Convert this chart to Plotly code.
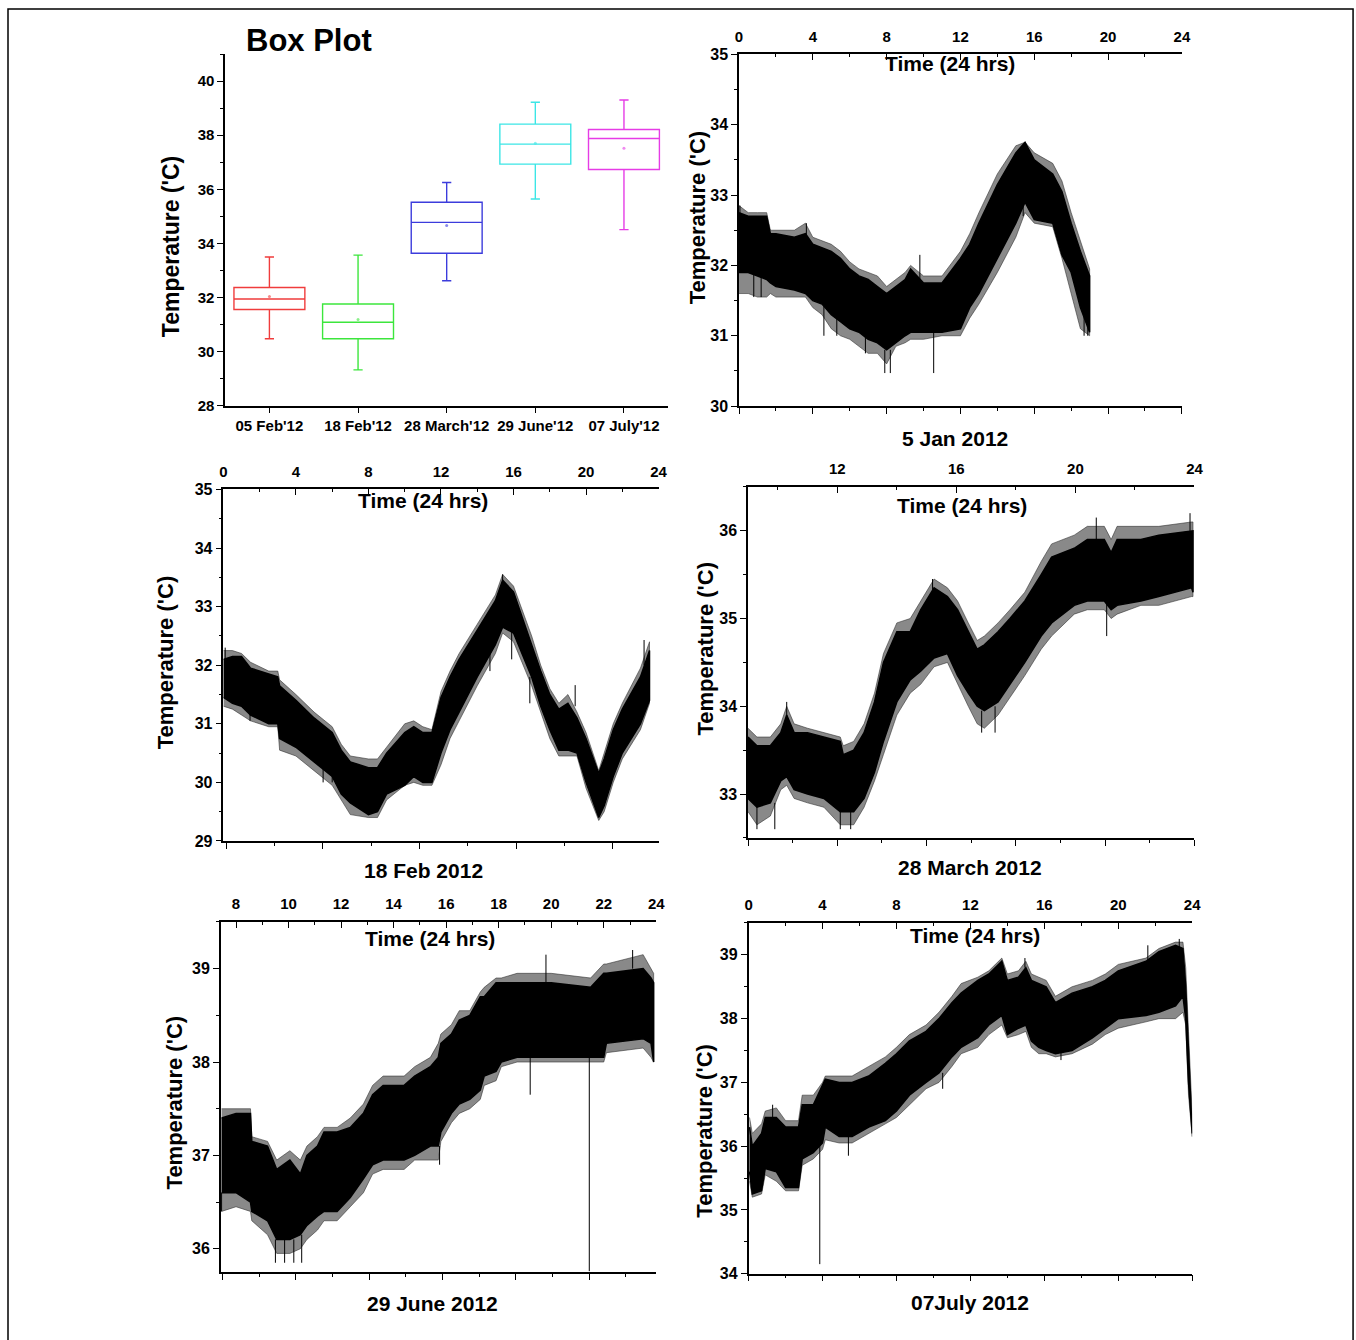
import plotly.graph_objects as go

W, H = 1356, 1340
FONT = "Liberation Sans, Arial, sans-serif"

# ---------------- Box plot data ----------------
box_dates = ["05 Feb'12", "18 Feb'12", "28 March'12", "29 June'12", "07 July'12"]
box_lower = [30.48, 29.33, 32.62, 35.64, 34.51]
box_q1 = [31.56, 30.48, 33.64, 36.93, 36.73]
box_median = [31.95, 31.09, 34.78, 37.67, 37.88]
box_q3 = [32.37, 31.76, 35.52, 38.41, 38.21]
box_upper = [33.50, 33.57, 36.25, 39.22, 39.30]
box_mean = [32.04, 31.19, 34.66, 37.70, 37.52]
box_colors = ["#f03c3c", "#3ce63c", "#3c3cdc", "#3ce6e6", "#e63ce6"]

# ---------------- 5 Jan 2012 ----------------
jan_t = [0, 0.5, 1, 1.5, 1.7, 2, 3, 3.6, 4, 4.5, 5, 5.5, 6, 6.5, 7, 7.5, 8, 8.5, 9, 9.3,
         10, 11, 12, 12.5, 13, 14, 15, 15.5, 16, 17, 17.5, 18, 18.5, 19]
jan_hi = [32.75, 32.7, 32.7, 32.7, 32.45, 32.45, 32.4, 32.45, 32.3, 32.25, 32.2, 32.1, 31.95, 31.85,
          31.8, 31.7, 31.6, 31.7, 31.8, 31.95, 31.75, 31.75, 32.1, 32.3, 32.6, 33.15, 33.6, 33.75,
          33.5, 33.3, 33.05, 32.6, 32.2, 31.85]
jan_lo = [31.9, 31.9, 31.85, 31.8, 31.75, 31.7, 31.65, 31.6, 31.5, 31.45, 31.3, 31.2, 31.1, 31.05,
          30.95, 30.9, 30.8, 30.9, 31.0, 31.05, 31.05, 31.05, 31.1, 31.4, 31.6, 32.1, 32.6, 32.9,
          32.65, 32.6, 32.15, 31.9, 31.4, 31.05]
jan_fhi = [32.85, 32.75, 32.75, 32.75, 32.5, 32.5, 32.5, 32.6, 32.4, 32.35, 32.3, 32.2, 32.05, 31.95,
           31.9, 31.85, 31.7, 31.8, 31.9, 32.0, 31.85, 31.85, 32.2, 32.45, 32.75, 33.3, 33.7, 33.75,
           33.6, 33.45, 33.2, 32.75, 32.35, 31.95]
jan_flo = [31.6, 31.6, 31.55, 31.55, 31.6, 31.55, 31.55, 31.55, 31.4, 31.3, 31.1, 31.0, 30.95, 30.85,
           30.75, 30.75, 30.6, 30.85, 30.9, 30.95, 30.95, 31.0, 31.0, 31.25, 31.45, 31.9, 32.4, 32.75,
           32.6, 32.55, 32.1, 31.6, 31.1, 31.0]
jan_spk_t = [0.05, 0.8, 1.2, 3.65, 4.6, 5.3, 6.85, 7.9, 8.2, 9.8, 10.55, 13.8, 15.4, 18.7, 18.9]
jan_spk_lo = [32.3, 31.55, 31.55, 32.3, 31.0, 31.0, 30.75, 30.47, 30.47, 31.7, 30.47, 32.5, 32.7, 31.0, 31.0]
jan_spk_hi = [32.85, 31.9, 31.9, 32.6, 31.5, 31.3, 31.0, 30.8, 30.8, 32.15, 31.05, 32.95, 33.0, 31.4, 31.4]

# ---------------- 18 Feb 2012 ----------------
feb_t = [0, 0.5, 1, 1.5, 2.5, 3, 3.1, 4, 5, 6, 6.5, 7, 8, 8.5, 9, 10, 10.5, 11, 11.5, 12,
         12.5, 13, 14, 15, 15.4, 16, 17, 17.5, 18, 18.5, 19, 19.5, 20, 20.7, 21, 21.5, 22, 23, 23.5]
feb_hi = [32.1, 32.15, 32.15, 31.95, 31.85, 31.8, 31.65, 31.4, 31.1, 30.85, 30.55, 30.35, 30.25,
          30.25, 30.5, 30.85, 30.95, 30.85, 30.85, 31.45, 31.8, 32.1, 32.6, 33.1, 33.45, 33.25,
          32.35, 31.9, 31.5, 31.25, 31.35, 31.1, 30.75, 30.15, 30.4, 30.9, 31.25, 31.8, 32.25]
feb_lo = [31.45, 31.35, 31.3, 31.15, 31.0, 31.0, 30.75, 30.6, 30.35, 30.1, 29.8, 29.65, 29.45,
          29.5, 29.8, 29.95, 30.1, 30.0, 30.0, 30.5, 30.9, 31.2, 31.8, 32.35, 32.65, 32.55, 31.8,
          31.3, 30.9, 30.55, 30.55, 30.5, 30.0, 29.4, 29.6, 30.1, 30.5, 31.0, 31.4]
feb_fhi = [32.25, 32.25, 32.2, 32.05, 31.9, 31.9, 31.75, 31.5, 31.2, 30.95, 30.65, 30.45, 30.4,
           30.4, 30.6, 31.0, 31.05, 30.95, 30.9, 31.55, 31.9, 32.2, 32.7, 33.2, 33.55, 33.35,
           32.5, 32.0, 31.6, 31.35, 31.5, 31.2, 30.85, 30.2, 30.5, 31.0, 31.35, 31.95, 32.4]
feb_flo = [31.3, 31.25, 31.15, 31.05, 30.95, 30.95, 30.55, 30.45, 30.2, 29.95, 29.7, 29.45, 29.4,
           29.4, 29.7, 29.95, 30.0, 29.95, 29.95, 30.3, 30.75, 31.05, 31.65, 32.2, 32.55, 32.4,
           31.65, 31.2, 30.75, 30.45, 30.45, 30.45, 29.9, 29.35, 29.5, 30.0, 30.4, 30.9, 31.35]
feb_spk_t = [0.1, 1.47, 5.5, 6.0, 14.7, 15.4, 15.9, 16.9, 19.4, 23.2]
feb_spk_lo = [31.8, 31.05, 30.0, 30.0, 31.9, 33.3, 32.1, 31.35, 31.3, 32.0]
feb_spk_hi = [32.3, 31.3, 30.3, 30.2, 32.3, 33.55, 32.6, 31.8, 31.66, 32.43]

# ---------------- 28 March 2012 ----------------
mar_t = [9.0, 9.3, 9.75, 10.1, 10.3, 10.55, 11.0, 11.55, 12.1, 12.2, 12.55, 12.9, 13.25, 13.55,
         14.0, 14.45, 14.8, 15.25, 15.7, 16.04, 16.4, 16.7, 16.94, 17.4, 17.8, 18.3, 18.85, 19.2,
         19.96, 20.4, 20.97, 21.2, 21.4, 22.2, 22.8, 23.9, 23.95]
mar_hi = [33.65, 33.55, 33.55, 33.7, 33.9, 33.7, 33.7, 33.65, 33.6, 33.45, 33.5, 33.7, 34.05, 34.5,
          34.85, 34.85, 35.1, 35.35, 35.25, 35.1, 34.85, 34.65, 34.7, 34.85, 35.0, 35.2, 35.5, 35.7,
          35.8, 35.9, 35.9, 35.75, 35.9, 35.9, 35.95, 36.0, 36.0]
mar_lo = [32.95, 32.85, 32.9, 33.15, 33.2, 33.05, 33.0, 32.95, 32.8, 32.8, 32.8, 32.95, 33.25, 33.6,
          34.05, 34.3, 34.4, 34.55, 34.6, 34.35, 34.15, 34.0, 33.95, 34.05, 34.25, 34.5, 34.8, 34.95,
          35.15, 35.2, 35.2, 35.1, 35.15, 35.2, 35.25, 35.35, 35.3]
mar_fhi = [33.75, 33.65, 33.65, 33.8, 34.0, 33.8, 33.75, 33.7, 33.65, 33.55, 33.6, 33.8, 34.15, 34.6,
           34.95, 35.0, 35.2, 35.45, 35.35, 35.2, 34.95, 34.75, 34.8, 34.95, 35.1, 35.3, 35.65, 35.85,
           35.95, 36.05, 36.05, 35.9, 36.05, 36.05, 36.05, 36.1, 36.1]
mar_flo = [32.8, 32.65, 32.75, 33.05, 33.1, 32.95, 32.9, 32.85, 32.65, 32.65, 32.65, 32.85, 33.15, 33.45,
           33.9, 34.15, 34.25, 34.45, 34.5, 34.25, 34.0, 33.8, 33.75, 33.9, 34.1, 34.35, 34.65, 34.8,
           35.05, 35.1, 35.1, 35.0, 35.05, 35.15, 35.15, 35.25, 35.25]
mar_spk_t = [9.3, 9.9, 12.1, 12.45, 16.85, 17.3, 21.05, 15.2, 20.7, 23.85, 10.3]
mar_spk_lo = [32.6, 32.6, 32.6, 32.6, 33.7, 33.7, 34.8, 35.3, 35.85, 35.95, 33.85]
mar_spk_hi = [32.9, 32.9, 32.8, 32.8, 33.95, 34.0, 35.2, 35.45, 36.15, 36.2, 34.05]

# ---------------- 29 June 2012 ----------------
jun_t = [7.45, 8.0, 8.55, 8.6, 9.2, 9.55, 10.05, 10.45, 10.7, 11.1, 11.35, 11.85, 12.35, 12.85,
         13.2, 13.6, 14.4, 14.8, 15.4, 15.7, 15.8, 16.2, 16.5, 16.9, 17.3, 17.45, 17.9, 18.1, 18.7,
         20.0, 21.5, 22.0, 22.1, 23.5, 23.8, 23.9]
jun_hi = [37.4, 37.45, 37.45, 37.15, 37.1, 36.85, 36.95, 36.8, 37.0, 37.1, 37.25, 37.25, 37.3,
          37.45, 37.65, 37.75, 37.75, 37.85, 37.95, 38.05, 38.2, 38.3, 38.45, 38.5, 38.7, 38.7,
          38.85, 38.85, 38.85, 38.85, 38.8, 38.95, 38.95, 39.0, 38.9, 38.85]
jun_lo = [36.6, 36.6, 36.5, 36.4, 36.3, 36.1, 36.1, 36.15, 36.25, 36.35, 36.4, 36.4, 36.55, 36.75,
          36.9, 36.95, 36.95, 37.0, 37.1, 37.1, 37.25, 37.45, 37.55, 37.6, 37.7, 37.85, 37.9, 38.0,
          38.05, 38.05, 38.05, 38.05, 38.2, 38.25, 38.2, 38.0]
jun_fhi = [37.5, 37.5, 37.5, 37.2, 37.15, 36.95, 37.05, 36.95, 37.1, 37.2, 37.3, 37.3, 37.4, 37.55,
           37.75, 37.85, 37.85, 37.95, 38.05, 38.2, 38.3, 38.4, 38.55, 38.55, 38.75, 38.8, 38.9, 38.9,
           38.95, 38.95, 38.9, 39.05, 39.05, 39.15, 39.0, 38.95]
jun_flo = [36.4, 36.45, 36.4, 36.3, 36.15, 35.95, 35.95, 36.0, 36.1, 36.2, 36.3, 36.3, 36.45, 36.6,
           36.8, 36.85, 36.85, 36.95, 36.95, 36.95, 37.15, 37.35, 37.45, 37.5, 37.6, 37.75, 37.8, 37.95,
           38.0, 38.0, 38.0, 38.0, 38.1, 38.15, 38.05, 38.0]
jun_spk_t = [21.45, 9.5, 9.85, 10.2, 10.5, 7.45, 19.8, 23.1, 19.2, 15.75]
jun_spk_lo = [35.76, 35.85, 35.85, 35.85, 35.85, 36.4, 38.85, 39.0, 37.65, 36.9]
jun_spk_hi = [38.8, 36.1, 36.1, 36.1, 36.15, 36.6, 39.15, 39.2, 38.05, 37.1]

# ---------------- 07 July 2012 ----------------
jul_t = [0.05, 0.2, 0.7, 0.9, 1.5, 2.0, 2.7, 2.9, 3.5, 4.0, 4.15, 4.9, 5.6, 6.5, 7.4, 8.0, 8.7,
         9.6, 10.3, 11.0, 11.5, 12.4, 13.0, 13.7, 14.0, 14.6, 15.0, 15.3, 15.7, 16.1, 16.6, 17.5,
         18.6, 19.3, 20.0, 21.5, 22.2, 23.1, 23.5, 23.65, 23.8, 24.0]
jul_hi = [36.3, 36.0, 36.2, 36.45, 36.45, 36.3, 36.3, 36.65, 36.65, 36.95, 37.05, 37.0, 37.0, 37.1,
          37.3, 37.45, 37.65, 37.8, 38.0, 38.25, 38.4, 38.6, 38.7, 38.9, 38.6, 38.65, 38.8, 38.6,
          38.55, 38.5, 38.25, 38.4, 38.5, 38.6, 38.75, 38.9, 39.05, 39.15, 39.1, 38.5, 37.5, 36.4]
jul_lo = [35.6, 35.25, 35.3, 35.65, 35.6, 35.35, 35.35, 35.8, 35.9, 36.05, 36.3, 36.15, 36.15, 36.3,
          36.4, 36.55, 36.8, 37.0, 37.15, 37.4, 37.55, 37.7, 37.9, 38.05, 37.75, 37.85, 37.9, 37.65,
          37.55, 37.5, 37.45, 37.5, 37.7, 37.85, 38.0, 38.05, 38.1, 38.2, 38.35, 38.0, 37.0, 36.2]
jul_fhi = [36.45, 36.2, 36.35, 36.55, 36.6, 36.4, 36.4, 36.8, 36.8, 37.0, 37.1, 37.1, 37.1, 37.25,
           37.4, 37.55, 37.75, 37.9, 38.1, 38.35, 38.55, 38.65, 38.75, 38.95, 38.7, 38.75, 38.9, 38.7,
           38.65, 38.6, 38.35, 38.5, 38.6, 38.7, 38.85, 38.95, 39.1, 39.2, 39.2, 38.8, 37.8, 36.5]
jul_flo = [35.45, 35.2, 35.25, 35.55, 35.45, 35.3, 35.3, 35.7, 35.8, 35.95, 36.1, 36.05, 36.05, 36.2,
           36.35, 36.45, 36.65, 36.9, 37.0, 37.25, 37.45, 37.55, 37.75, 37.9, 37.7, 37.75, 37.8, 37.55,
           37.45, 37.45, 37.4, 37.45, 37.6, 37.75, 37.85, 37.95, 38.0, 38.0, 38.1, 37.9, 36.8, 36.15]
jul_spk_t = [3.85, 5.4, 1.3, 14.95, 23.3, 21.6, 10.5, 16.9]
jul_spk_lo = [34.15, 35.85, 36.45, 38.8, 39.1, 38.9, 36.9, 37.35]
jul_spk_hi = [36.1, 36.15, 36.65, 38.95, 39.25, 39.15, 37.15, 37.5]

series = [
    (jan_t, jan_hi, jan_lo, jan_fhi, jan_flo, jan_spk_t, jan_spk_lo, jan_spk_hi),
    (feb_t, feb_hi, feb_lo, feb_fhi, feb_flo, feb_spk_t, feb_spk_lo, feb_spk_hi),
    (mar_t, mar_hi, mar_lo, mar_fhi, mar_flo, mar_spk_t, mar_spk_lo, mar_spk_hi),
    (jun_t, jun_hi, jun_lo, jun_fhi, jun_flo, jun_spk_t, jun_spk_lo, jun_spk_hi),
    (jul_t, jul_hi, jul_lo, jul_fhi, jul_flo, jul_spk_t, jul_spk_lo, jul_spk_hi),
]

# ---------------- layout geometry (target pixels in the photo) ----------------
# empirical correction for the capture (small offset + ~1% shrink)
def PX(p):
    return (p - 4.0) / 0.99

def PY(p):
    return (p - 8.0) / 0.987

def fx(p):
    return PX(p) / W

def fy(p):
    return 1 - PY(p) / H

def dx(a, b):
    return [max(0, fx(a)), min(1, fx(b))]

def dy(top, bottom):
    return [max(0, fy(bottom)), min(1, fy(top))]

panels = [
    dict(x=(738.7, 1181.4), y=(54.3, 406.0), yr=(30, 35), xr=(0, 24), top=(0, 4, 2), bot=(0, 4, 2),
         ytitle=(697, 217), ttitle=(950, 63), btitle=(955, 438), label="5 Jan 2012"),
    dict(x=(223.3, 658.3), y=(489.3, 840.7), yr=(29, 35), xr=(0, 24), top=(0, 4, 2), bot=(0.15, 5.333, 2.667),
         ytitle=(165, 662), ttitle=(423, 500), btitle=(423, 870), label="18 Feb 2012"),
    dict(x=(747.7, 1194.0), y=(486.7, 837.7), yr=(32.5, 36.5), xr=(9, 24), top=(12, 4, 2), bot=(9, 3, 1.5),
         ytitle=(705, 648), ttitle=(962, 505), btitle=(970, 867), label="28 March 2012"),
    dict(x=(220.7, 656.0), y=(921.7, 1271.7), yr=(35.75, 39.5), xr=(7.42, 24), top=(8, 2, 1), bot=(7.48, 2.794, 1.397),
         ytitle=(174, 1102), ttitle=(430, 938), btitle=(432, 1303), label="29 June 2012"),
    dict(x=(748.3, 1191.7), y=(922.7, 1273.3), yr=(34, 39.5), xr=(0, 24), top=(0, 4, 2), bot=(0, 4, 2),
         ytitle=(704, 1130), ttitle=(975, 935), btitle=(970, 1302), label="07July 2012"),
]

fig = go.Figure()
layout = dict(
    width=W, height=H, margin=dict(l=0, r=0, t=0, b=0, pad=0),
    paper_bgcolor="white", plot_bgcolor="white", showlegend=False,
    font=dict(family=FONT, color="black"),
)
annotations = []

tickfont = dict(family=FONT, size=15, color="black", weight="bold")
axis_common = dict(showgrid=False, zeroline=False, showline=True, linecolor="black", linewidth=1.5,
                   tickcolor="black", tickwidth=1.3, tickfont=tickfont)

# ---------------- box plot panel ----------------
for i, name in enumerate(box_dates):
    fig.add_trace(go.Box(
        x=[name], q1=[box_q1[i]], median=[box_median[i]], q3=[box_q3[i]],
        lowerfence=[box_lower[i]], upperfence=[box_upper[i]],
        line=dict(color=box_colors[i], width=1.4), fillcolor="rgba(0,0,0,0)",
        width=0.8, whiskerwidth=0.13, boxpoints=False, xaxis="x", yaxis="y",
        hoverinfo="skip"))
fig.add_trace(go.Scatter(x=box_dates, y=box_mean, mode="markers",
                         marker=dict(color=box_colors, size=3, opacity=0.6), xaxis="x", yaxis="y",
                         hoverinfo="skip"))

layout["xaxis"] = dict(axis_common, domain=dx(225, 668), anchor="y", type="category",
                       categoryorder="array", categoryarray=box_dates, range=[-0.5, 4.5],
                       ticks="outside", ticklen=5, tickfont=dict(tickfont, size=15))
layout["yaxis"] = dict(axis_common, domain=dy(54, 405.7), anchor="x", range=[28, 41],
                       tickvals=[28, 30, 32, 34, 36, 38, 40], ticks="outside", ticklen=6,
                       minor=dict(dtick=1, tick0=28, ticks="outside", ticklen=3, tickcolor="black"))


def note(text, x, y, size, angle=0):
    annotations.append(dict(text=f"<b>{text}</b>", x=fx(x), y=fy(y), xref="paper", yref="paper",
                            showarrow=False, textangle=angle,
                            font=dict(family=FONT, size=size, color="black"),
                            xanchor="center", yanchor="middle"))


note("Box Plot", 309, 40, 31)
note("Temperature ('C)", 171, 247, 23, -90)

# ---------------- time-series panels ----------------
for k, (p, s) in enumerate(zip(panels, series)):
    xb = 2 + 2 * k      # bottom x axis number
    xt = xb + 1         # top x axis number
    yn = 2 + k          # y axis number
    t, hi, lo, fhi, flo, st, slo, shi = s
    # hairy fringe of the noisy record (drawn as a grey halo)
    fig.add_trace(go.Scatter(x=list(t) + list(t)[::-1], y=list(fhi) + list(flo)[::-1],
                             mode="lines", fill="toself", fillcolor="rgba(40,40,40,0.55)",
                             line=dict(color="rgba(40,40,40,0.55)", width=1),
                             xaxis=f"x{xb}", yaxis=f"y{yn}", hoverinfo="skip"))
    # dense core of the record
    fig.add_trace(go.Scatter(x=list(t) + list(t)[::-1], y=list(hi) + list(lo)[::-1],
                             mode="lines", fill="toself", fillcolor="black",
                             line=dict(color="black", width=1.5),
                             xaxis=f"x{xb}", yaxis=f"y{yn}", hoverinfo="skip"))
    sx, sy = [], []
    for a, b, c in zip(st, slo, shi):
        sx += [a, a, None]
        sy += [b, c, None]
    fig.add_trace(go.Scatter(x=sx, y=sy, mode="lines", line=dict(color="black", width=1),
                             xaxis=f"x{xb}", yaxis=f"y{yn}", hoverinfo="skip"))
    fig.add_trace(go.Scatter(x=[p["xr"][0]], y=[p["yr"][0]], mode="markers",
                             marker=dict(size=1, color="rgba(0,0,0,0)"),
                             xaxis=f"x{xt}", yaxis=f"y{yn}", hoverinfo="skip"))

    ylo, yhi = p["yr"]
    first = int(ylo) if ylo == int(ylo) else int(ylo) + 1
    layout[f"xaxis{xb}"] = dict(axis_common, domain=dx(*p["x"]), anchor=f"y{yn}", range=list(p["xr"]),
                                side="bottom", showticklabels=False, ticks="outside", ticklen=6,
                                tick0=p["bot"][0], dtick=p["bot"][1],
                                minor=dict(tick0=p["bot"][0], dtick=p["bot"][2], ticks="outside",
                                           ticklen=3, tickcolor="black"))
    layout[f"xaxis{xt}"] = dict(axis_common, overlaying=f"x{xb}", anchor=f"y{yn}", range=list(p["xr"]),
                                side="top", ticks="inside", ticklen=6, tick0=p["top"][0],
                                dtick=p["top"][1], ticklabelstandoff=5,
                                minor=dict(tick0=p["top"][0], dtick=p["top"][2], ticks="inside",
                                           ticklen=3, tickcolor="black"))
    layout[f"yaxis{yn}"] = dict(axis_common, domain=dy(*p["y"]), anchor=f"x{xb}", range=[ylo, yhi],
                                tick0=first, dtick=1, ticks="outside", ticklen=6,
                                tickfont=dict(tickfont, size=16),
                                minor=dict(dtick=0.5, tick0=first, ticks="outside", ticklen=3,
                                           tickcolor="black"))
    note("Temperature ('C)", p["ytitle"][0], p["ytitle"][1], 22, -90)
    note("Time (24 hrs)", p["ttitle"][0], p["ttitle"][1], 21)
    note(p["label"], p["btitle"][0], p["btitle"][1], 21)

layout["annotations"] = annotations
layout["shapes"] = [dict(type="rect", xref="paper", yref="paper", x0=fx(8), x1=fx(1352.5),
                         y0=-0.02, y1=1 - 1.0 / H, line=dict(color="black", width=1.5),
                         fillcolor="rgba(0,0,0,0)", layer="below")]
fig.update_layout(**layout)
fig.write_html(
    "out.html",
    config={"displayModeBar": False},
    post_script="document.body.style.margin='0';document.body.style.padding='0';"
                "document.documentElement.style.overflow='hidden';",
)
